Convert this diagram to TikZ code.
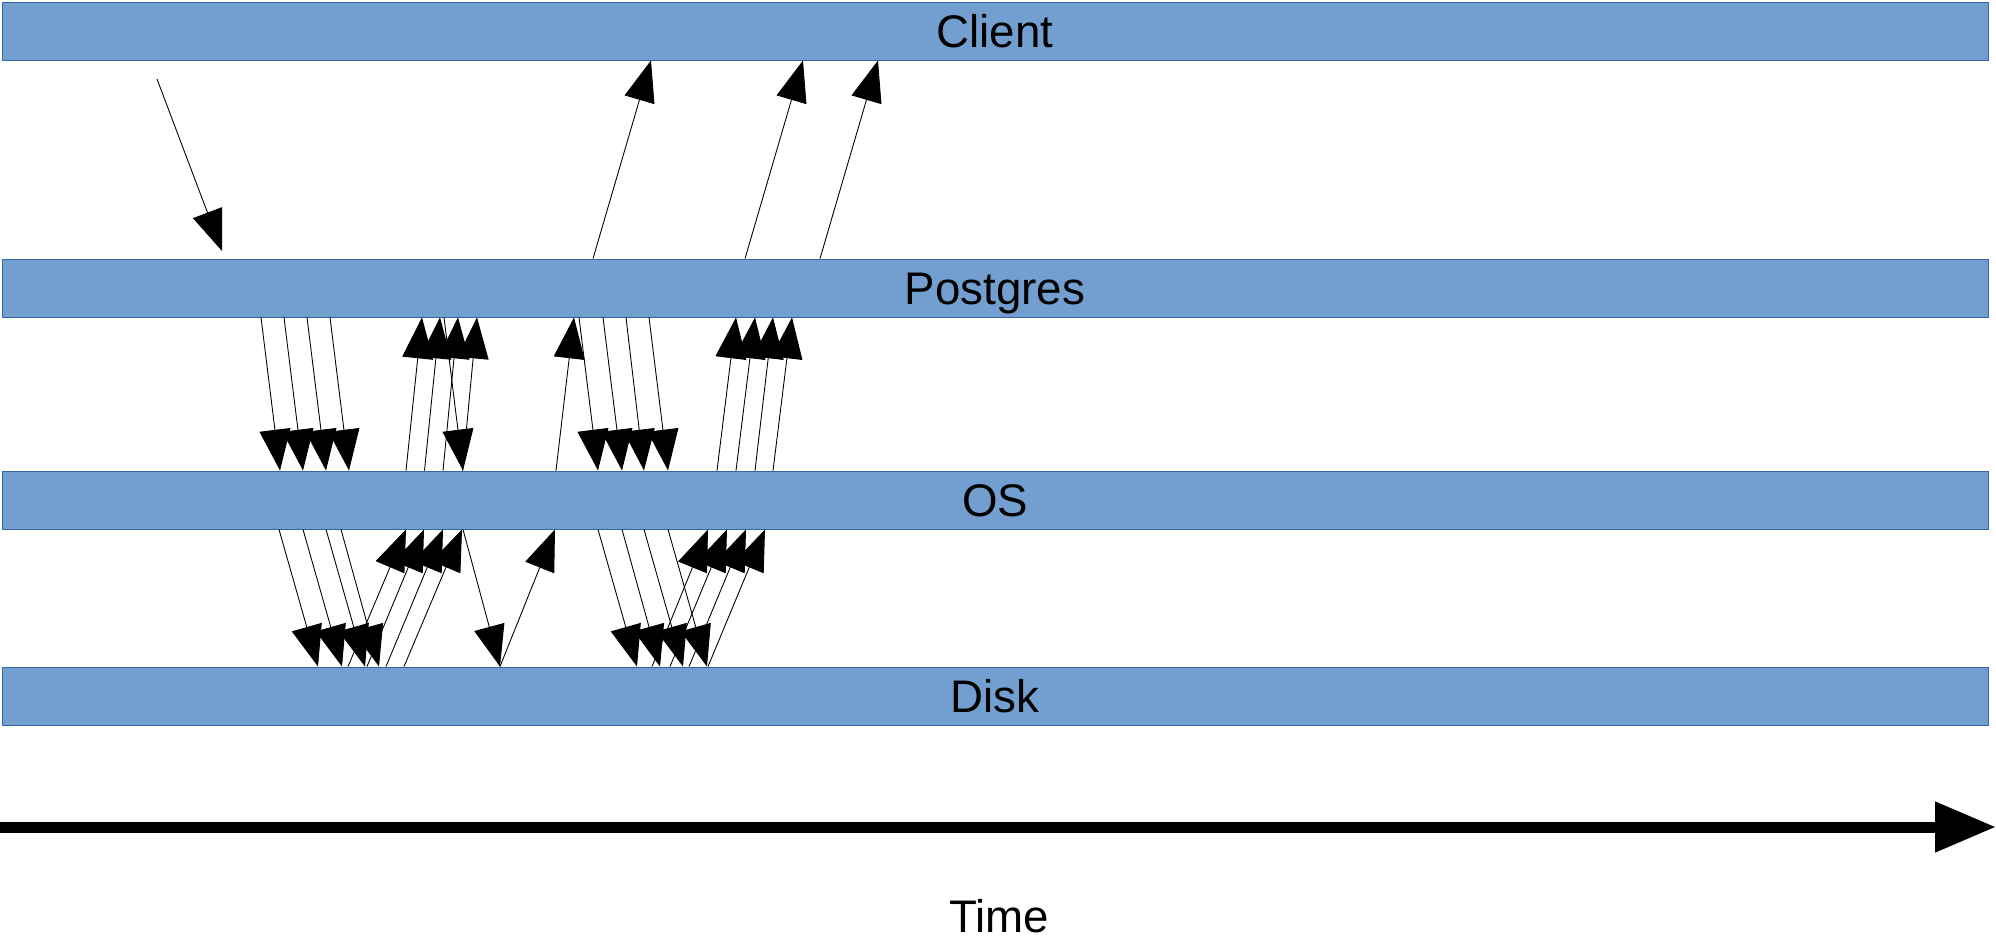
\documentclass[tikz,border=0pt]{standalone}
\usepackage{fontspec}
\setmainfont{Liberation Sans}
\usetikzlibrary{arrows.meta, positioning}

\definecolor{barfill}{HTML}{729FCF}
\definecolor{barline}{HTML}{3465A4}

\begin{document}
\begin{tikzpicture}[
    layer/.style={draw=barline, fill=barfill, line width=0.5pt,
                  minimum width=39.72cm, minimum height=1.16cm,
                  inner sep=0pt, text height=18.6pt, text depth=0pt,
                  font=\fontsize{26}{30}\selectfont},
    msg/.style={->, line width=0.5pt},
    >={Triangle[length=0.82cm, width=0.62cm]}
  ]
  \useasboundingbox (0,0) rectangle (39.92,-18.8);
  % Layers
  \node[layer] (client) at (19.9,-0.62) {Client};
  \node[layer] (pg) at (19.9,-5.76) {Postgres};
  \node[layer] (os) at (19.9,-10.0) {OS};
  \node[layer] (disk) at (19.9,-13.92) {Disk};
  % Query from client
  \coordinate (qstart) at (3.14,-1.58);
  \coordinate (qend) at (4.44,-5.02);
  \draw[msg] (qstart) -- (qend);
  % Results back to client
  \foreach \s/\e in {11.86/13.02, 14.90/16.06, 16.40/17.56}
    \draw[msg] (\s,0 |- pg.north) -- (\e,0 |- client.south);
  % Postgres to OS
  \foreach \s/\e in {5.22/5.60, 5.68/6.06, 6.14/6.52, 6.60/6.98, 8.88/9.26,
                     11.58/11.96, 12.06/12.44, 12.52/12.88, 12.98/13.36}
    \draw[msg] (\s,0 |- pg.south) -- (\e,0 |- os.north);
  % OS to Postgres
  \foreach \s/\e in {8.12/8.44, 8.49/8.80, 8.86/9.16, 9.25/9.54, 11.12/11.48,
                     14.34/14.72, 14.72/15.10, 15.10/15.46, 15.46/15.84}
    \draw[msg] (\s,0 |- os.north) -- (\e,0 |- pg.south);
  % OS to disk
  \foreach \s/\e in {5.58/6.36, 6.06/6.84, 6.52/7.30, 6.82/7.58, 9.26/10.00,
                     11.96/12.74, 12.44/13.20, 12.88/13.66, 13.36/14.14}
    \draw[msg] (\s,0 |- os.south) -- (\e,0 |- disk.north);
  % Disk to OS
  \foreach \s/\e in {6.96/8.12, 7.34/8.48, 7.72/8.86, 8.08/9.24, 10.00/11.10,
                     13.04/14.16, 13.40/14.54, 13.78/14.92, 14.16/15.30}
    \draw[msg] (\s,0 |- disk.north) -- (\e,0 |- os.south);
  % Time axis
  \coordinate (t0) at (0,-16.54);
  \coordinate (t1) at (39.92,-16.54);
  \draw[line width=0.22cm, -{Triangle[length=1.22cm, width=0.96cm]}] (t0) -- (t1);
  \node[font=\fontsize{26}{30}\selectfont, anchor=base] (time) at (19.98,-18.64) {Time};
\end{tikzpicture}
\end{document}
